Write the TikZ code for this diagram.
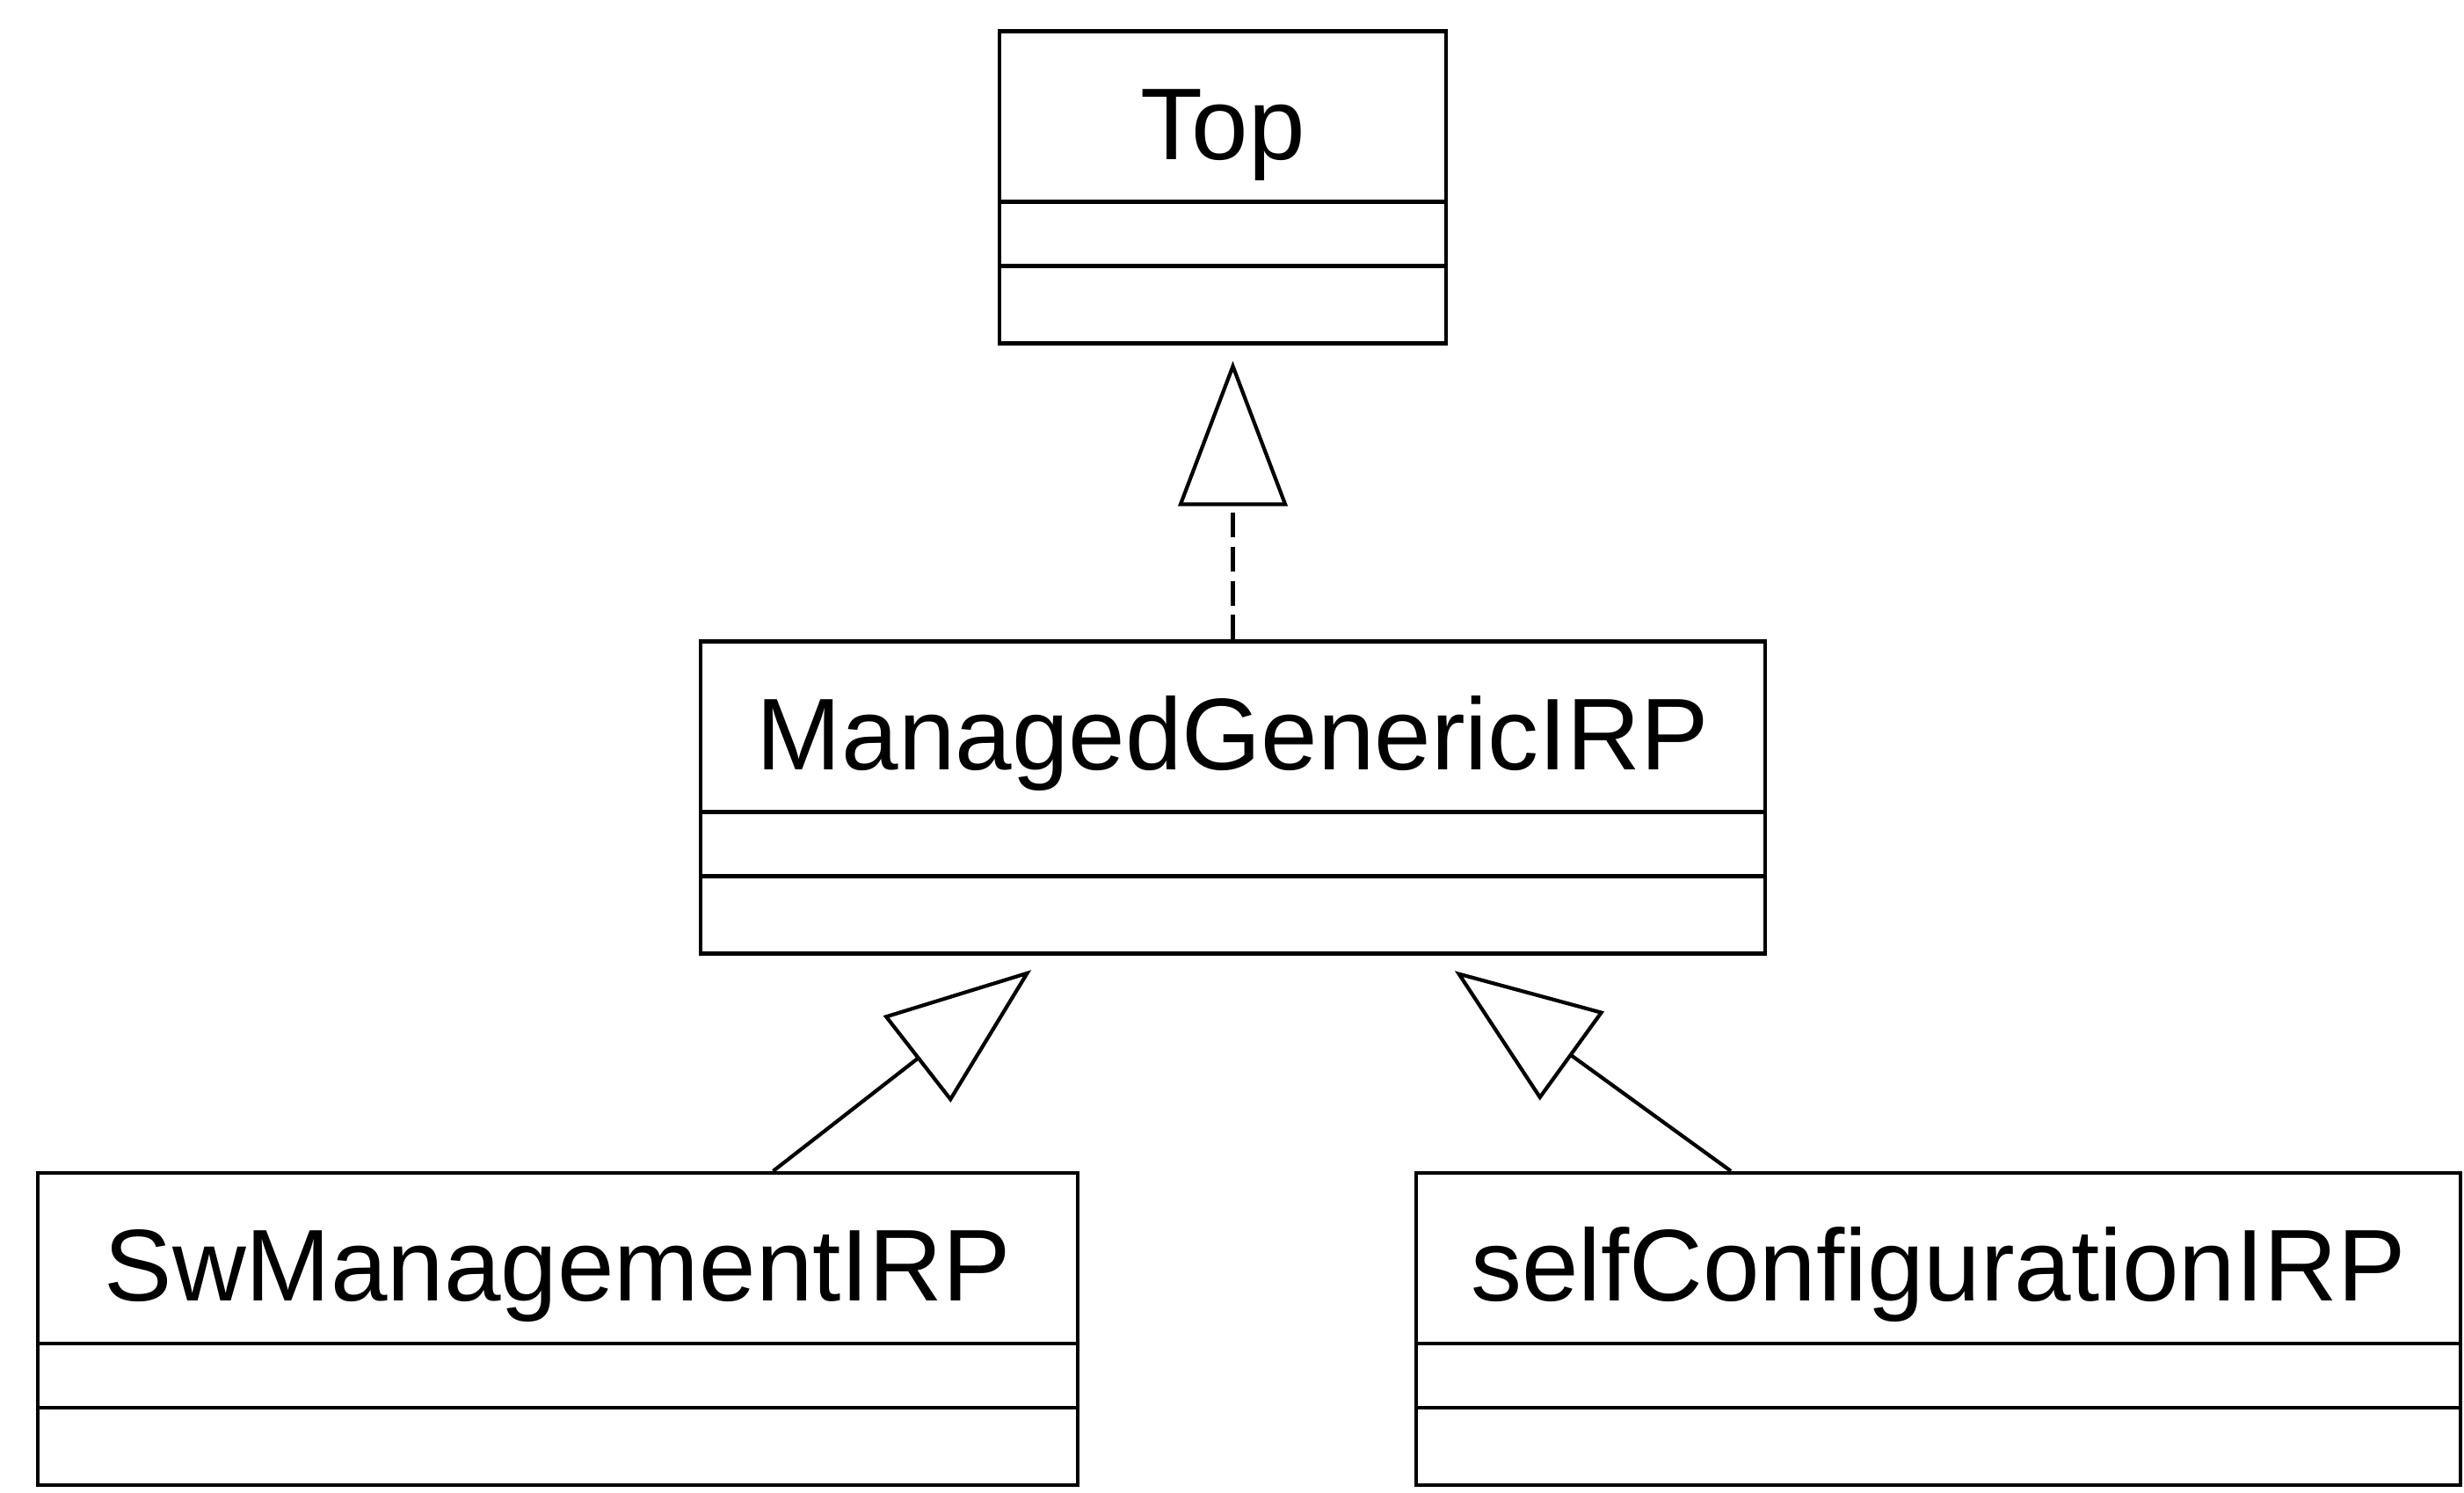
\documentclass[tikz,border=0pt]{standalone}
\usepackage{fontspec}
\setmainfont{Liberation Sans}
\usetikzlibrary{arrows.meta}
\newcommand{\classfont}{\fontsize{33}{40}\selectfont}
\tikzset{%
  >={Triangle[open, length=1.65cm, width=1.24cm]},
  % Specifications for style of class boxes:
  classbox/.style = {rectangle, draw=black, line width=1.2pt,
                     inner xsep=0pt, inner ysep=0pt,
                     minimum height=3.55cm,
                     text height=1.46cm, text depth=2.09cm,
                     font=\classfont,
                     path picture={
                       \draw[line width=1.2pt]
                         ([yshift=1.61cm]path picture bounding box.south west) --
                         ([yshift=1.61cm]path picture bounding box.south east)
                         ([yshift=0.88cm]path picture bounding box.south west) --
                         ([yshift=0.88cm]path picture bounding box.south east);}},
  % Specifications for style of connectors:
   inherit/.style = {->, line width=1.2pt},
   realize/.style = {inherit, dash pattern=on 8pt off 3pt},
}
\begin{document}
\begin{tikzpicture}
  \useasboundingbox (0,0) rectangle (28.03,16.98);
  % Specification of class boxes (position, width)
  \node (top)      [classbox, minimum width=5.08cm]  at (13.91,14.85)  {Top};
  \node (managed)  [classbox, minimum width=12.11cm] at (14.025,7.91)  {ManagedGenericIRP};
  \node (sw)       [classbox, minimum width=11.83cm] at (6.345,1.865)  {SwManagementIRP};
  \node (self)     [classbox, minimum width=11.88cm] at (22.05,1.865)  {selfConfigurationIRP};
  % Specification of connectors between class boxes
  \draw[realize, shorten >=0.18cm] (managed.north) -- (managed.north |- top.south);
  \draw[inherit, shorten >=0.27cm] ([xshift=2.45cm]sw.north) -- ([xshift=-2.08cm]managed.south);
  \draw[inherit, shorten >=0.30cm] ([xshift=-2.36cm]self.north) -- ([xshift=2.28cm]managed.south);
\end{tikzpicture}
\end{document}
